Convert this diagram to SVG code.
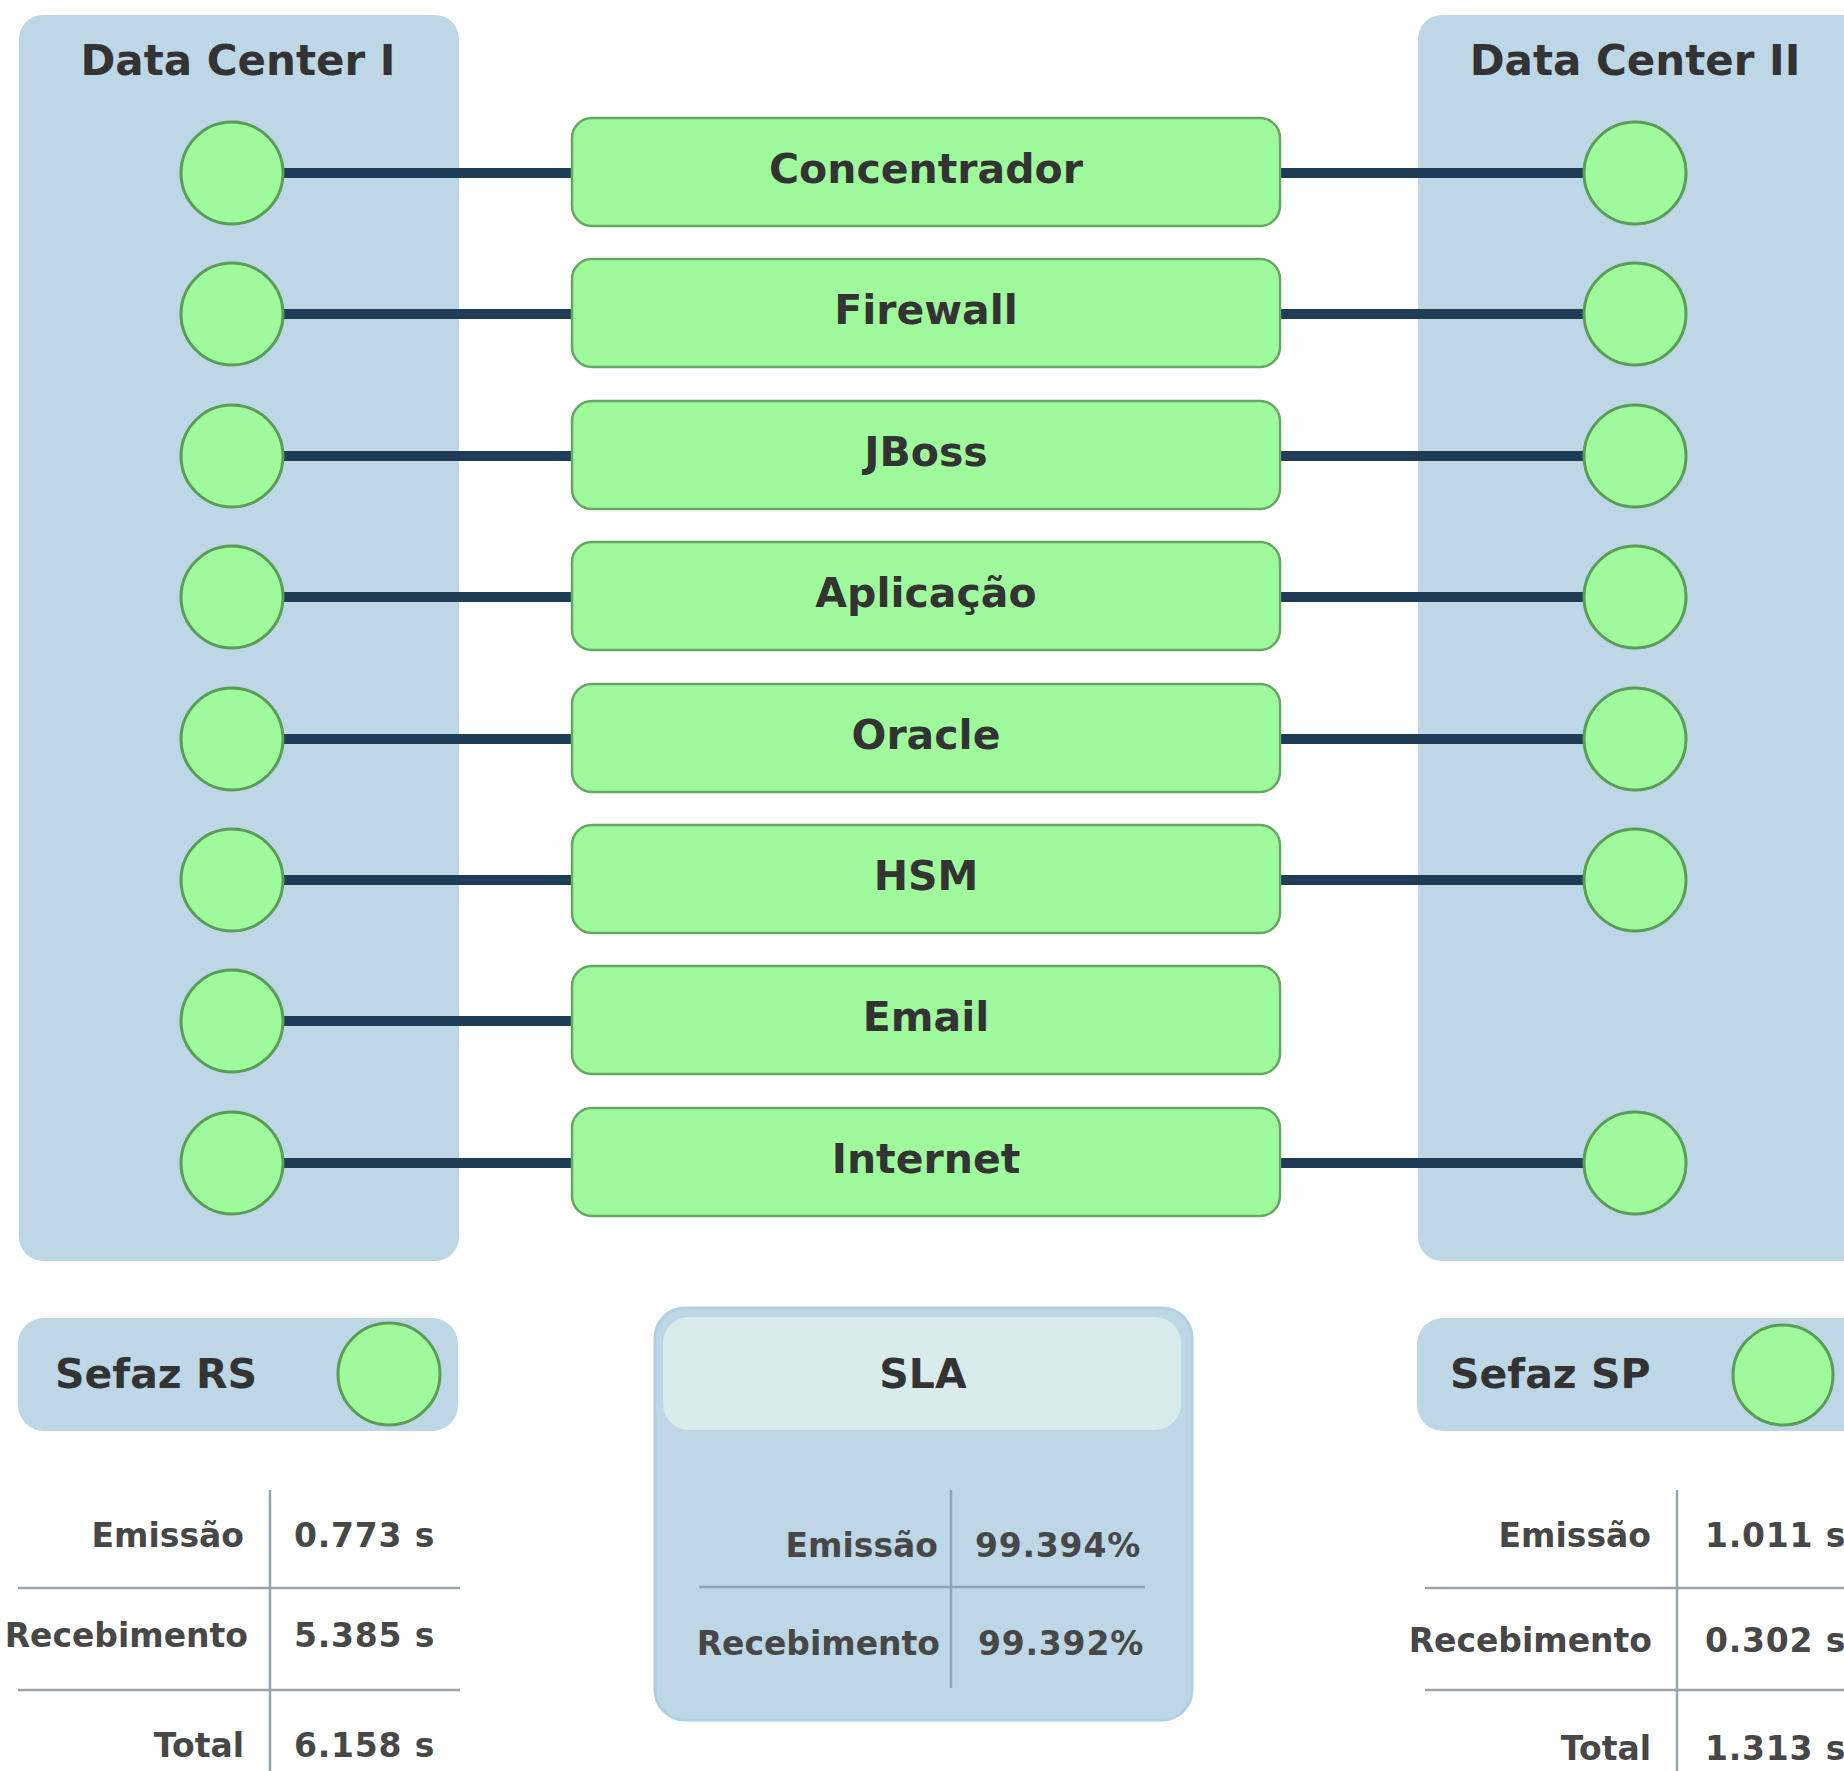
<svg xmlns="http://www.w3.org/2000/svg" width="1844" height="1771" viewBox="0 0 1844 1771">
<style>
text{font-family:"DejaVu Sans",Verdana,sans-serif;font-weight:bold;fill:#333}
.panel{fill:#bdd7e6}
.box{fill:#9ffa9c;stroke:#64a862;stroke-width:2.5}
.dot{fill:#9ffa9c;stroke:#5a9c58;stroke-width:3}
.conn{stroke:#1f3d57;stroke-width:10;fill:none}
.lbl{font-size:41px;text-anchor:middle}
.ttl{font-size:42px;text-anchor:middle}
.tk{font-size:33px;text-anchor:end;fill:#474747}
.tv{font-size:33px;fill:#474747;letter-spacing:0.8px}
.grid{stroke:#9aa4ad;stroke-width:2.5;fill:none}
</style>
<rect width="1844" height="1771" fill="#ffffff"/>
<g id="dc1">
<rect class="panel" x="19" y="15" width="440" height="1246" rx="24"/>
<text class="ttl" x="238" y="75">Data Center I</text>
</g>
<g id="dc2">
<rect class="panel" x="1418" y="15" width="460" height="1246" rx="24"/>
<text class="ttl" x="1635" y="75">Data Center II</text>
</g>
<g id="connectors">
<line class="conn" x1="270" y1="173" x2="574" y2="173"/>
<line class="conn" x1="270" y1="314" x2="574" y2="314"/>
<line class="conn" x1="270" y1="456" x2="574" y2="456"/>
<line class="conn" x1="270" y1="597" x2="574" y2="597"/>
<line class="conn" x1="270" y1="739" x2="574" y2="739"/>
<line class="conn" x1="270" y1="880" x2="574" y2="880"/>
<line class="conn" x1="270" y1="1021" x2="574" y2="1021"/>
<line class="conn" x1="270" y1="1163" x2="574" y2="1163"/>
<line class="conn" x1="1278" y1="173" x2="1600" y2="173"/>
<line class="conn" x1="1278" y1="314" x2="1600" y2="314"/>
<line class="conn" x1="1278" y1="456" x2="1600" y2="456"/>
<line class="conn" x1="1278" y1="597" x2="1600" y2="597"/>
<line class="conn" x1="1278" y1="739" x2="1600" y2="739"/>
<line class="conn" x1="1278" y1="880" x2="1600" y2="880"/>
<line class="conn" x1="1278" y1="1163" x2="1600" y2="1163"/>
</g>
<g id="dc1-dots">
<circle class="dot" cx="232" cy="173" r="51"/>
<circle class="dot" cx="232" cy="314" r="51"/>
<circle class="dot" cx="232" cy="456" r="51"/>
<circle class="dot" cx="232" cy="597" r="51"/>
<circle class="dot" cx="232" cy="739" r="51"/>
<circle class="dot" cx="232" cy="880" r="51"/>
<circle class="dot" cx="232" cy="1021" r="51"/>
<circle class="dot" cx="232" cy="1163" r="51"/>
</g>
<g id="dc2-dots">
<circle class="dot" cx="1635" cy="173" r="51"/>
<circle class="dot" cx="1635" cy="314" r="51"/>
<circle class="dot" cx="1635" cy="456" r="51"/>
<circle class="dot" cx="1635" cy="597" r="51"/>
<circle class="dot" cx="1635" cy="739" r="51"/>
<circle class="dot" cx="1635" cy="880" r="51"/>
<circle class="dot" cx="1635" cy="1163" r="51"/>
</g>
<g id="concentrador"><rect class="box" x="572" y="118" width="708" height="108" rx="20"/><text class="lbl" x="926" y="183">Concentrador</text></g>
<g id="firewall"><rect class="box" x="572" y="259" width="708" height="108" rx="20"/><text class="lbl" x="926" y="324">Firewall</text></g>
<g id="jboss"><rect class="box" x="572" y="401" width="708" height="108" rx="20"/><text class="lbl" x="926" y="466">JBoss</text></g>
<g id="aplicacao"><rect class="box" x="572" y="542" width="708" height="108" rx="20"/><text class="lbl" x="926" y="607">Aplicação</text></g>
<g id="oracle"><rect class="box" x="572" y="684" width="708" height="108" rx="20"/><text class="lbl" x="926" y="749">Oracle</text></g>
<g id="hsm"><rect class="box" x="572" y="825" width="708" height="108" rx="20"/><text class="lbl" x="926" y="890">HSM</text></g>
<g id="email"><rect class="box" x="572" y="966" width="708" height="108" rx="20"/><text class="lbl" x="926" y="1031">Email</text></g>
<g id="internet"><rect class="box" x="572" y="1108" width="708" height="108" rx="20"/><text class="lbl" x="926" y="1173">Internet</text></g>
<g id="sefaz-rs">
<rect class="panel" x="18" y="1318" width="440" height="113" rx="26"/>
<text x="55" y="1388" style="font-size:41px">Sefaz RS</text>
<circle class="dot" cx="389" cy="1374" r="51"/>
</g>
<g id="rs-table">
<line class="grid" x1="270" y1="1490" x2="270" y2="1771"/>
<line class="grid" x1="18" y1="1588" x2="460" y2="1588"/>
<line class="grid" x1="18" y1="1690" x2="460" y2="1690"/>
<text class="tk" x="244" y="1547">Emissão</text>
<text class="tv" x="294" y="1547">0.773 s</text>
<text class="tk" x="248" y="1647">Recebimento</text>
<text class="tv" x="294" y="1647">5.385 s</text>
<text class="tk" x="244" y="1757">Total</text>
<text class="tv" x="294" y="1757">6.158 s</text>
</g>
<g id="sla">
<rect x="655" y="1308" width="537" height="412" rx="30" fill="#bdd7e6" stroke="#b2cfe1" stroke-width="3"/>
<rect x="663" y="1317" width="518" height="113" rx="26" fill="#d9ecec"/>
<text class="lbl" x="923" y="1388">SLA</text>
<line class="grid" x1="951" y1="1490" x2="951" y2="1688" style="stroke:#8fa3b3"/>
<line class="grid" x1="699" y1="1587" x2="1145" y2="1587" style="stroke:#8fa3b3"/>
<text class="tk" x="938" y="1557">Emissão</text>
<text class="tv" x="975" y="1557">99.394%</text>
<text class="tk" x="940" y="1655">Recebimento</text>
<text class="tv" x="978" y="1655">99.392%</text>
</g>
<g id="sefaz-sp">
<rect class="panel" x="1417" y="1318" width="460" height="113" rx="26"/>
<text x="1450" y="1388" style="font-size:41px">Sefaz SP</text>
<circle class="dot" cx="1783" cy="1375" r="50"/>
</g>
<g id="sp-table">
<line class="grid" x1="1677" y1="1490" x2="1677" y2="1771"/>
<line class="grid" x1="1425" y1="1588" x2="1844" y2="1588"/>
<line class="grid" x1="1425" y1="1690" x2="1844" y2="1690"/>
<text class="tk" x="1651" y="1547">Emissão</text>
<text class="tv" x="1705" y="1547">1.011 s</text>
<text class="tk" x="1652" y="1652">Recebimento</text>
<text class="tv" x="1705" y="1652">0.302 s</text>
<text class="tk" x="1651" y="1760">Total</text>
<text class="tv" x="1705" y="1760">1.313 s</text>
</g>
</svg>
